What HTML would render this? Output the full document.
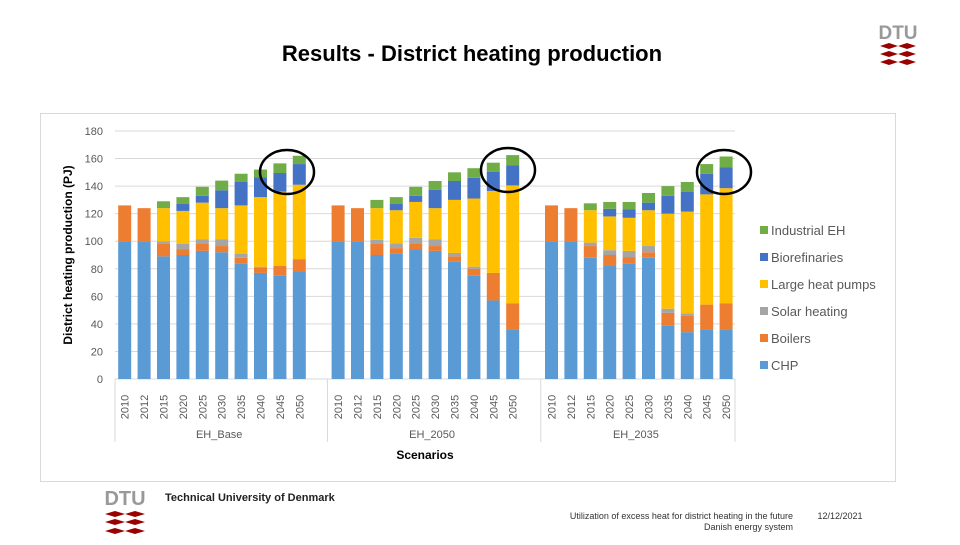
<!DOCTYPE html>
<html><head><meta charset="utf-8"><style>
body{margin:0;width:960px;height:540px;background:#fff;overflow:hidden;font-family:"Liberation Sans",sans-serif}
</style></head><body>
<svg width="960" height="540" xmlns="http://www.w3.org/2000/svg">
<text x="472" y="61" text-anchor="middle" font-size="22" font-weight="bold" fill="#000">Results - District heating production</text>
<g>
<text x="898" y="39" text-anchor="middle" font-size="19" font-weight="bold" fill="#999" font-family="Liberation Sans Narrow, Liberation Sans, sans-serif">DTU</text>
<path d="M880,46 l9,-3 l9,3 l9,-3 l9,3 l-9,3 l-9,-3 l-9,3z M880,54 l9,-3 l9,3 l9,-3 l9,3 l-9,3 l-9,-3 l-9,3z M880,62 l9,-3 l9,3 l9,-3 l9,3 l-9,3 l-9,-3 l-9,3z" fill="#990000"/>
</g>
<rect x="40.5" y="113.5" width="855" height="368" fill="#fff" stroke="#d9d9d9"/>
<g id="grid"></g><g id="bars"></g><g id="axes"></g>
<g fill="none" stroke="#000" stroke-width="2.5">
<ellipse cx="287" cy="172" rx="27" ry="22"/><ellipse cx="508" cy="170" rx="27" ry="22"/><ellipse cx="724" cy="172" rx="27" ry="22"/>
</g>
<text transform="translate(72,255) rotate(-90)" text-anchor="middle" font-size="12" font-weight="bold" fill="#000">District heating production (PJ)</text>
<text x="425" y="459" text-anchor="middle" font-size="12" font-weight="bold" fill="#000">Scenarios</text>
<g id="legend"></g>
<g>
<text x="125" y="505" text-anchor="middle" font-size="20" font-weight="bold" fill="#999">DTU</text>
<path d="M105,514 l10,-3 l10,3 l10,-3 l10,3 l-10,3 l-10,-3 l-10,3z M105,522 l10,-3 l10,3 l10,-3 l10,3 l-10,3 l-10,-3 l-10,3z M105,531 l10,-3 l10,3 l10,-3 l10,3 l-10,3 l-10,-3 l-10,3z" fill="#990000"/>
</g>
<text x="165" y="501" font-size="11" font-weight="bold" fill="#222">Technical University of Denmark</text>
<text x="793" y="519" text-anchor="end" font-size="9" fill="#333">Utilization of excess heat for district heating in the future</text>
<text x="793" y="530" text-anchor="end" font-size="9" fill="#333">Danish energy system</text>
<text x="840" y="519" text-anchor="middle" font-size="9" fill="#333">12/12/2021</text>
</svg>
<script>
const NS="http://www.w3.org/2000/svg";
const groups=["EH_Base","EH_2050","EH_2035"];
const years=["2010","2012","2015","2020","2025","2030","2035","2040","2045","2050"];
const seriesNames=["CHP","Boilers","Solar heating","Large heat pumps","Biorefinaries","Industrial EH"];
const colors=["#5b9bd5","#ed7d31","#a5a5a5","#ffc000","#4472c4","#70ad47"];
const yTicks=[0,20,40,60,80,100,120,140,160,180];
const chp=[100,100,89,90,93,92,84,77,75,78, 100,100,90,91,94,93,85,75,57,36, 100,100,88,82,84,88,39,34,36,36];
const boilers=[26,24,9,4,5,4.5,4,4,7,9, 26,24,8.5,4,4,3.5,4,5,20,19, 26,24,8.5,8,4.5,4,9,12,18,19];
const solar=[0,0,2,4,3.5,5,3,0.5,0,0, 0,0,2.5,3.5,4.5,5,2.5,1.5,0,0, 0,0,2.5,3.5,4.5,4.5,3,1.5,0,0];
const lhp=[0,0,24,24,26.5,22.5,35,50.5,54,54, 0,0,23,24,26,22.5,38.5,49.5,59.5,85.5, 0,0,23.5,24.5,24,26,69,74,80,83.5];
const bio=[0,0,0,5,5,13,17,14.5,13.5,15, 0,0,0,4.5,4.5,13.4,13.7,15,14,14.5, 0,0,0,5.5,6,5.5,13,14.5,15,15];
const ind=[0,0,5,5,6.5,7,6,5.5,7,6, 0,0,6,5,6.5,6.3,6.3,7,6.5,7.5, 0,0,5,5,5.5,7,7,7,7,8];
const series=[chp,boilers,solar,lhp,bio,ind];
const X0=115,SLOT=19.4,BW=13,Y0=379,YTOP=131;
const y=v=>Y0-(v/180)*(Y0-YTOP);
const xc=(g,i)=>X0+(g*11+i+0.5)*SLOT;
function mk(tag,attrs,parent){const e=document.createElementNS(NS,tag);for(const k in attrs)e.setAttribute(k,attrs[k]);parent.appendChild(e);return e;}
const grid=document.getElementById('grid'),bars=document.getElementById('bars'),axes=document.getElementById('axes'),legend=document.getElementById('legend');
yTicks.forEach(t=>{
 const l=mk('line',{x1:X0,x2:735,y1:y(t),y2:y(t),stroke:'#d9d9d9','stroke-width':1},grid);
 
 
 const tx=mk('text',{x:103,y:y(t)+4,'text-anchor':'end','font-size':11,fill:'#595959'},axes);
 tx.textContent=t;
 
 
});
const seps=[X0,X0+11*SLOT-1,X0+22*SLOT-1,735];
groups.forEach((g,gi)=>{
 years.forEach((yr,i)=>{
  const k=gi*10+i;let acc=0;
  series.forEach((s,si)=>{
   const v=s[k];if(!v)return;
   const r=mk('rect',{x:xc(gi,i)-BW/2,y:y(acc+v),width:BW,height:y(acc)-y(acc+v),fill:colors[si]},bars);
   
   
   acc+=v;
  });
  const t=mk('text',{transform:`translate(${xc(gi,i)+4},407) rotate(-90)`,'text-anchor':'middle','font-size':11,fill:'#595959'},axes);
  t.textContent=yr;
  
  
 });
 const gl=mk('text',{x:(seps[gi]+seps[gi+1])/2-2,y:438,'text-anchor':'middle','font-size':11,fill:'#595959'},axes);
 gl.textContent=g;
 
 
});
seps.forEach(x=>{
 const l=mk('line',{x1:x,x2:x,y1:379,y2:442,stroke:'#d9d9d9'},axes);
 
 
});
const ly=[365,338,311,284,257,230];
seriesNames.forEach((n,i)=>{
 const r=mk('rect',{x:760,y:ly[i]-4,width:8,height:8,fill:colors[i]},legend);
 
 
 const t=mk('text',{x:771,y:ly[i]+5,'font-size':13,fill:'#595959'},legend);
 t.textContent=n;
 
 
});
</script>
</body></html>
